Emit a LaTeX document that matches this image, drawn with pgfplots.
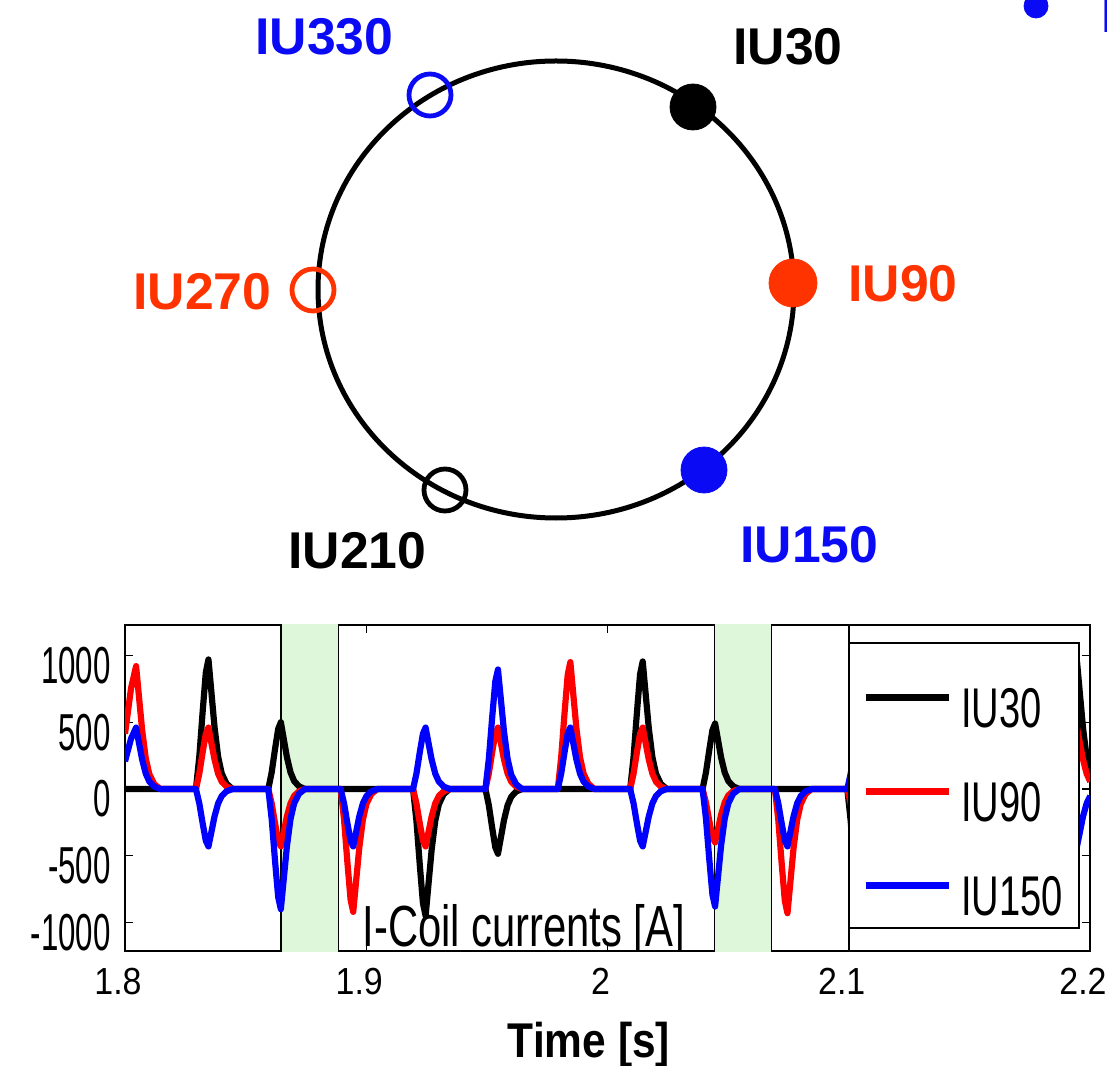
\documentclass[border=0pt]{standalone}
\usepackage{fontspec}
\setmainfont{Liberation Sans}
\newfontfamily\ytfont[FakeStretch=0.6]{Liberation Sans}
\newfontfamily\xtfont[FakeStretch=0.9]{Liberation Sans}
\newfontfamily\legfont[FakeStretch=0.68]{Liberation Sans}
\newfontfamily\coilfont[FakeStretch=0.72]{Liberation Sans}
\newfontfamily\xlabfont[FakeStretch=0.87]{Liberation Sans}
\usepackage{pgfplots}
\pgfplotsset{compat=1.18}
\definecolor{ored}{RGB}{255,51,0}
\definecolor{dblue}{RGB}{10,10,245}
\definecolor{bandgreen}{RGB}{222,246,218}
\newcommand\lblfont{\bfseries\fontsize{25.85}{30}\selectfont}
\begin{document}
\begin{tikzpicture}
% ---------------- top diagram ----------------
\begin{axis}[name=top, at={(0,0)}, anchor=south west, scale only axis,
  width=553.5pt, height=532.5pt, xmin=0, xmax=1107, ymin=0, ymax=1065,
  y dir=reverse, hide axis, clip=false]
\draw[line width=2.5pt] (axis cs:556,289.5) ellipse [x radius=119pt, y radius=114.25pt];
\addplot[only marks, mark=*, mark size=11.5pt, black] coordinates {(693,107)};
\addplot[only marks, mark=*, mark size=12pt, color=ored] coordinates {(793,283)};
\addplot[only marks, mark=*, mark size=11.5pt, color=dblue] coordinates {(704,470)};
\addplot[only marks, mark=o, mark size=10.5pt, color=dblue, mark options={line width=2.4pt}] coordinates {(430,95)};
\addplot[only marks, mark=o, mark size=10.5pt, color=ored, mark options={line width=2.4pt}] coordinates {(313,290)};
\addplot[only marks, mark=o, mark size=10.5pt, black, mark options={line width=2.4pt}] coordinates {(445,490)};
\addplot[only marks, mark=*, mark size=6pt, color=dblue] coordinates {(1036,6)};
\node[anchor=base west, inner sep=0pt, text=dblue, font=\lblfont] at (axis cs:255,55) {IU330};
\node[anchor=base west, inner sep=0pt, text=black, font=\lblfont] at (axis cs:733,65) {IU30};
\node[anchor=base west, inner sep=0pt, text=ored, font=\lblfont] at (axis cs:133,310) {IU270};
\node[anchor=base west, inner sep=0pt, text=ored, font=\lblfont] at (axis cs:848,302) {IU90};
\node[anchor=base west, inner sep=0pt, text=black, font=\lblfont] at (axis cs:288,568) {IU210};
\node[anchor=base west, inner sep=0pt, text=dblue, font=\lblfont] at (axis cs:740,562) {IU150};
\node[anchor=base west, inner sep=0pt, text=dblue, font=\lblfont] at (axis cs:1101,33) {IU};
\end{axis}
% ---------------- bottom plot ----------------
\begin{axis}[name=bot, at={(62.5pt,57pt)}, anchor=south west, scale only axis,
  width=482.5pt, height=163pt,
  xmin=1.8, xmax=2.2, ymin=-1213, ymax=1228,
  xtick={1.8,1.9,2,2.1,2.2}, xticklabels={1.8,1.9,2,2.1,2.2},
  ytick={-1000,-500,0,500,1000}, yticklabels={-1000,-500,0,500,1000},
  /pgf/number format/assume math mode=true,
  tick align=inside, tick pos=both, major tick length=4pt,
  tick style={line width=0.6pt, black},
  axis line style={line width=1pt},
  xticklabel style={font={\xtfont\fontsize{18.85}{22}\selectfont}, anchor=north, inner sep=0pt, yshift=-8.5pt, xshift=-3.5pt},
  yticklabel style={font={\ytfont\fontsize{26}{30}\selectfont}, anchor=east, inner sep=0pt, xshift=-7pt, yshift=-5pt},
  xlabel={Time [s]},
  xlabel style={font={\xlabfont\bfseries\fontsize{24.4}{28}\selectfont}, at={(axis description cs:0.4808,0)}, anchor=base, yshift=-53pt, inner sep=0pt},
  legend style={at={(0.7637,0.8067)}, anchor=north west, draw=none, fill=none, inner sep=0pt,
    row sep=26pt, column sep=4.5pt, nodes={inner sep=0pt},
    font={\legfont\fontsize{28}{32}\selectfont}},
  legend cell align=left,
  legend image code/.code={\draw[line width=3.4pt] (0pt,6pt) -- (41.5pt,6pt);},
  every axis plot/.append style={line width=3.1pt, line join=round}]
% shaded bands
\addplot[fill=bandgreen, draw=black, line width=0.75pt, forget plot] coordinates {(1.8647,-1400) (1.8647,1400) (1.8884,1400) (1.8884,-1400)} -- cycle;
\addplot[fill=bandgreen, draw=black, line width=0.75pt, forget plot] coordinates {(2.0444,-1400) (2.0444,1400) (2.0680,1400) (2.0680,-1400)} -- cycle;
\addplot[black, line width=0.75pt, forget plot] coordinates {(2.1,-1400) (2.1,1400)};
% IU30
\addplot[black] coordinates {
(1.8,0)
(1.8294,0)(1.8308,242)(1.8322,582)(1.8335,873)(1.8346,970)(1.8358,728)(1.8371,466)(1.8386,242)(1.8401,116)(1.8421,39)(1.8446,0)
(1.8594,0)(1.8608,125)(1.8622,300)(1.8635,450)(1.8646,500)(1.8658,375)(1.8671,240)(1.8686,125)(1.8701,60)(1.8721,20)(1.8746,0)
(1.9194,0)(1.9208,-238)(1.9222,-570)(1.9235,-855)(1.9246,-950)(1.9258,-713)(1.9271,-456)(1.9286,-238)(1.9301,-114)(1.9321,-38)(1.9346,0)
(1.9494,0)(1.9508,-121)(1.9522,-291)(1.9535,-437)(1.9546,-485)(1.9558,-364)(1.9571,-233)(1.9586,-121)(1.9601,-58)(1.9621,-19)(1.9646,0)
(2.0094,0)(2.0108,239)(2.0122,573)(2.0135,860)(2.0146,955)(2.0158,716)(2.0171,458)(2.0186,239)(2.0201,115)(2.0221,38)(2.0246,0)
(2.0394,0)(2.0408,123)(2.0422,294)(2.0435,441)(2.0446,490)(2.0458,368)(2.0471,235)(2.0486,123)(2.0501,59)(2.0521,20)(2.0546,0)
(2.0994,0)(2.1008,-238)(2.1022,-570)(2.1035,-855)(2.1046,-950)(2.1058,-713)(2.1071,-456)(2.1086,-238)(2.1101,-114)(2.1121,-38)(2.1146,0)
(2.1294,0)(2.1308,-121)(2.1322,-291)(2.1335,-437)(2.1346,-485)(2.1358,-364)(2.1371,-233)(2.1386,-121)(2.1401,-58)(2.1421,-19)(2.1446,0)
(2.1894,0)(2.1908,239)(2.1922,573)(2.1935,860)(2.1946,955)(2.1958,716)(2.1971,458)(2.1986,239)(2.2001,115)
};
\addlegendentry{IU30}
% IU90
\addplot[red] coordinates {
(1.8,414)(1.8025,754)(1.8046,920)(1.8058,690)(1.8071,442)(1.8086,230)(1.8101,110)(1.8121,37)(1.8146,0)
(1.8294,0)(1.8308,115)(1.8322,276)(1.8335,414)(1.8346,460)(1.8358,345)(1.8371,221)(1.8386,115)(1.8401,55)(1.8421,18)(1.8446,0)
(1.8594,0)(1.8608,-108)(1.8622,-258)(1.8635,-387)(1.8646,-430)(1.8658,-323)(1.8671,-206)(1.8686,-108)(1.8701,-52)(1.8721,-17)(1.8746,0)
(1.8894,0)(1.8908,-230)(1.8922,-552)(1.8935,-828)(1.8946,-920)(1.8958,-690)(1.8971,-442)(1.8986,-230)(1.9001,-110)(1.9021,-37)(1.9046,0)
(1.9194,0)(1.9208,-108)(1.9222,-258)(1.9235,-387)(1.9246,-430)(1.9258,-323)(1.9271,-206)(1.9286,-108)(1.9301,-52)(1.9321,-17)(1.9346,0)
(1.9494,0)(1.9508,115)(1.9522,276)(1.9535,414)(1.9546,460)(1.9558,345)(1.9571,221)(1.9586,115)(1.9601,55)(1.9621,18)(1.9646,0)
(1.9794,0)(1.9808,238)(1.9822,570)(1.9835,855)(1.9846,950)(1.9858,713)(1.9871,456)(1.9886,238)(1.9901,114)(1.9921,38)(1.9946,0)
(2.0094,0)(2.0108,115)(2.0122,276)(2.0135,414)(2.0146,460)(2.0158,345)(2.0171,221)(2.0186,115)(2.0201,55)(2.0221,18)(2.0246,0)
(2.0394,0)(2.0408,-100)(2.0422,-240)(2.0435,-360)(2.0446,-400)(2.0458,-300)(2.0471,-192)(2.0486,-100)(2.0501,-48)(2.0521,-16)(2.0546,0)
(2.0694,0)(2.0708,-233)(2.0722,-558)(2.0735,-837)(2.0746,-930)(2.0758,-698)(2.0771,-446)(2.0786,-233)(2.0801,-112)(2.0821,-37)(2.0846,0)
(2.0994,0)(2.1008,-108)(2.1022,-258)(2.1035,-387)(2.1046,-430)(2.1058,-323)(2.1071,-206)(2.1086,-108)(2.1101,-52)(2.1121,-17)(2.1146,0)
(2.1294,0)(2.1308,115)(2.1322,276)(2.1335,414)(2.1346,460)(2.1358,345)(2.1371,221)(2.1386,115)(2.1401,55)(2.1421,18)(2.1446,0)
(2.1594,0)(2.1608,238)(2.1622,570)(2.1635,855)(2.1646,950)(2.1658,713)(2.1671,456)(2.1686,238)(2.1701,114)(2.1721,38)(2.1746,0)
(2.1894,0)(2.1908,115)(2.1922,276)(2.1935,414)(2.1946,460)(2.1958,345)(2.1971,221)(2.1986,115)(2.2001,55)
};
\addlegendentry{IU90}
% IU150
\addplot[blue] coordinates {
(1.8,207)(1.8025,377)(1.8046,460)(1.8058,345)(1.8071,221)(1.8086,115)(1.8101,55)(1.8121,18)(1.8146,0)
(1.8294,0)(1.8308,-108)(1.8322,-258)(1.8335,-387)(1.8346,-430)(1.8358,-323)(1.8371,-206)(1.8386,-108)(1.8401,-52)(1.8421,-17)(1.8446,0)
(1.8594,0)(1.8608,-225)(1.8622,-540)(1.8635,-810)(1.8646,-900)(1.8658,-675)(1.8671,-432)(1.8686,-225)(1.8701,-108)(1.8721,-36)(1.8746,0)
(1.8894,0)(1.8908,-108)(1.8922,-258)(1.8935,-387)(1.8946,-430)(1.8958,-323)(1.8971,-206)(1.8986,-108)(1.9001,-52)(1.9021,-17)(1.9046,0)
(1.9194,0)(1.9208,115)(1.9222,276)(1.9235,414)(1.9246,460)(1.9258,345)(1.9271,221)(1.9286,115)(1.9301,55)(1.9321,18)(1.9346,0)
(1.9494,0)(1.9508,224)(1.9522,537)(1.9535,806)(1.9546,895)(1.9558,671)(1.9571,430)(1.9586,224)(1.9601,107)(1.9621,36)(1.9646,0)
(1.9794,0)(1.9808,115)(1.9822,276)(1.9835,414)(1.9846,460)(1.9858,345)(1.9871,221)(1.9886,115)(1.9901,55)(1.9921,18)(1.9946,0)
(2.0094,0)(2.0108,-108)(2.0122,-258)(2.0135,-387)(2.0146,-430)(2.0158,-323)(2.0171,-206)(2.0186,-108)(2.0201,-52)(2.0221,-17)(2.0246,0)
(2.0394,0)(2.0408,-220)(2.0422,-528)(2.0435,-792)(2.0446,-880)(2.0458,-660)(2.0471,-422)(2.0486,-220)(2.0501,-106)(2.0521,-35)(2.0546,0)
(2.0694,0)(2.0708,-108)(2.0722,-258)(2.0735,-387)(2.0746,-430)(2.0758,-323)(2.0771,-206)(2.0786,-108)(2.0801,-52)(2.0821,-17)(2.0846,0)
(2.0994,0)(2.1008,115)(2.1022,276)(2.1035,414)(2.1046,460)(2.1058,345)(2.1071,221)(2.1086,115)(2.1101,55)(2.1121,18)(2.1146,0)
(2.1294,0)(2.1308,224)(2.1322,537)(2.1335,806)(2.1346,895)(2.1358,671)(2.1371,430)(2.1386,224)(2.1401,107)(2.1421,36)(2.1446,0)
(2.1594,0)(2.1608,115)(2.1622,276)(2.1635,414)(2.1646,460)(2.1658,345)(2.1671,221)(2.1686,115)(2.1701,55)(2.1721,18)(2.1746,0)
(2.1894,0)(2.1908,-108)(2.1922,-258)(2.1935,-387)(2.1946,-430)(2.1958,-323)(2.1971,-206)(2.1986,-108)(2.2001,-52)
};
\addlegendentry{IU150}
% legend box
\draw[fill=white, line width=0.8pt] (axis cs:2.1,1094) rectangle (axis cs:2.1954,-1041);
\node[anchor=base west, inner sep=0pt, font={\coilfont\fontsize{29}{33}\selectfont}] at (axis cs:1.8983,-1176) {I-Coil currents [A]};
\end{axis}
\pgfresetboundingbox
\path[use as bounding box] (0,0) rectangle (553.5pt,532.5pt);
\end{tikzpicture}
\end{document}
